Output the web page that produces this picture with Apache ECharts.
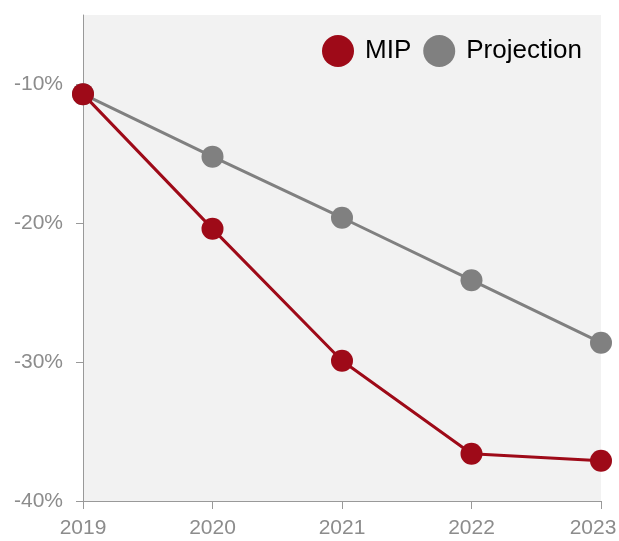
<!DOCTYPE html>
<html>
<head>
<meta charset="utf-8">
<script src="https://cdn.jsdelivr.net/npm/echarts@6/dist/echarts.min.js"></script>
<style>html,body{margin:0;padding:0;background:#fff;}#c{width:619px;height:541px;}</style>
</head>
<body>
<div id="c"></div>
<script>
const years = ['2019', '2020', '2021', '2022', '2023'];
const mip = [-10.7, -20.4, -29.9, -36.6, -37.1];
const projection = [-10.7, -15.2, -19.6, -24.1, -28.6];
const yTicks = [-40, -30, -20, -10];

const chart = echarts.init(document.getElementById('c'), null, {renderer: 'canvas'});
const axisGrey = '#999999';
const labelGrey = '#8c8c8c';
const labelFont = 'Liberation Sans';
chart.setOption({
  animation: false,
  grid: {left: 83, right: 18, top: 15, bottom: 40, show: true, backgroundColor: '#f2f2f2', borderWidth: 0,
         containLabel: false, outerBoundsMode: 'none'},
  legend: {
    left: 317, top: 30,
    itemWidth: 32, itemHeight: 32, itemGap: 12,
    icon: 'circle',
    textStyle: {fontFamily: 'Liberation Sans', fontSize: 26, color: '#000', padding: [0, 0, 0, 6]},
    data: ['MIP', 'Projection']
  },
  xAxis: {
    type: 'category', data: years, boundaryGap: false,
    axisLine: {lineStyle: {color: axisGrey, width: 1}},
    axisTick: {length: 8, lineStyle: {color: axisGrey}},
    axisLabel: {margin: 17, fontFamily: labelFont, fontSize: 21, color: labelGrey,
      formatter: (v, i) => i === years.length - 1 ? '{last|' + v + '}' : v,
      rich: {last: {fontFamily: labelFont, fontSize: 21, color: labelGrey, padding: [0, 16, 0, 0]}}},
    splitLine: {show: false}
  },
  yAxis: {
    type: 'value', min: -40, max: -5, interval: 10,
    axisLine: {show: true, lineStyle: {color: axisGrey, width: 1}},
    axisTick: {show: true, length: 7, customValues: yTicks, lineStyle: {color: axisGrey}},
    axisLabel: {margin: 20, fontFamily: labelFont, fontSize: 21, color: labelGrey,
      customValues: yTicks, formatter: v => v + '%'},
    splitLine: {show: false}
  },
  series: [
    {name: 'MIP', type: 'line', data: mip, z: 3, symbol: 'circle', symbolSize: 22,
     itemStyle: {color: '#9e0a18'}, lineStyle: {color: '#9e0a18', width: 3}},
    {name: 'Projection', type: 'line', data: projection, z: 2, symbol: 'circle', symbolSize: 22,
     itemStyle: {color: '#808080'}, lineStyle: {color: '#808080', width: 3}}
  ]
});
</script>
</body>
</html>
